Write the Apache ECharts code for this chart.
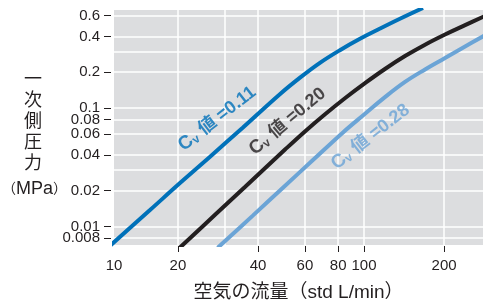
<!DOCTYPE html>
<html>
<head>
<meta charset="utf-8">
<script src="https://cdn.jsdelivr.net/npm/echarts@6/dist/echarts.min.js"></script>
<style>
html, body { margin: 0; padding: 0; background: #fff; }
#chart { width: 483px; height: 307px; }
</style>
</head>
<body>
<div id="chart"></div>
<script>
// 空気の流量 (std L/min) と 一次側圧力 (MPa)、両対数
var flow011 = [10.9, 15.7, 20.3, 26.4, 35.1, 48.3, 57.5, 68.3, 81.2, 96.6, 114.9, 136.5, 166.6];
var pres011 = [0.0066, 0.01374, 0.0231, 0.0388, 0.0684, 0.1305, 0.180, 0.240, 0.307, 0.383, 0.467, 0.565, 0.697];
var flow020 = [20.3, 27.5, 35.7, 50.5, 60, 71.4, 84.8, 100.9, 119.9, 142.6, 169.6, 201.6, 239.8, 285.1];
var pres020 = [0.0066, 0.01247, 0.0215, 0.0445, 0.0633, 0.0884, 0.1207, 0.1618, 0.2129, 0.2737, 0.3413, 0.4159, 0.4993, 0.597];
var flow028 = [28.2, 38.3, 49.6, 64.3, 83.4, 100.9, 119.9, 142.6, 169.6, 201.6, 239.8, 285.1];
var pres028 = [0.0066, 0.01239, 0.0212, 0.0363, 0.0621, 0.0892, 0.1233, 0.1656, 0.211, 0.2635, 0.3295, 0.4110];

var cvNames = ['0.11', '0.20', '0.28'];
// ラベルの位置 (データ座標)
var cvLabelFlow = [28.1, 51.6, 105.8];
var cvLabelPres = [0.0811, 0.0770, 0.0570];

var xRange = [11.5, 280];
var yRange = [0.00697, 0.67];
var xGrid = [20, 30, 40, 60, 80, 100, 200];
var xTicks = [20, 40, 60, 80, 100, 200];
var xLabelVals = [11.5, 20, 40, 60, 80, 100, 200];
var xLabels = ['10', '20', '40', '60', '80', '100', '200'];
var yGrid = [0.008, 0.01, 0.02, 0.03, 0.04, 0.06, 0.08, 0.1, 0.2, 0.3, 0.4, 0.6];
var yTicks = [0.008, 0.01, 0.02, 0.04, 0.06, 0.08, 0.1, 0.2, 0.4, 0.6];
var yLabels = ['0.008', '0.01', '0.02', '0.04', '0.06', '0.08', '0.1', '0.2', '0.4', '0.6'];

var lg = function(v) { return Math.log10(v); };
var pairs = function(xs, ys) {
	return xs.map(function(x, i) { return [lg(x), lg(ys[i])]; });
};
var labelOf = function(vals, texts) {
	return function(v) {
		for (var i = 0; i < vals.length; i++) {
			if (Math.abs(lg(vals[i]) - v) < 1e-4) return texts[i];
		}
		return '';
	};
};

var font = "'Liberation Sans','Noto Sans CJK JP',sans-serif";
var ink = '#231f20';
var colors = ['#0071b9', '#231f20', '#6ba4d6'];
var rotations = [38, 40, 38];

// 近い目盛ラベルが消されないよう、交互に二つの軸へ振り分ける
var yLabelAxis = function(parity, withTicks) {
	var vals = yTicks.filter(function(v, i) { return i % 2 === parity; });
	return {
		type: 'value', min: lg(yRange[0]), max: lg(yRange[1]),
		position: 'left', offset: 3,
		axisLine: {show: false},
		axisTick: {show: withTicks, length: 7, customValues: yTicks.map(lg), lineStyle: {color: ink, width: 1}},
		axisLabel: {
			customValues: vals.map(lg), formatter: labelOf(yTicks, yLabels),
			margin: 11, color: ink, fontSize: 15, fontFamily: font,
			hideOverlap: false, showMinLabel: true, showMaxLabel: true
		},
		splitLine: {show: false}
	};
};

var myChart = echarts.init(document.getElementById('chart'));
var option = {
	animation: false,
	grid: {
		left: 114, top: 10, right: 0, bottom: 57,
		show: true, backgroundColor: '#dcdddf', borderWidth: 0
	},
	xAxis: [
		{
			type: 'value', min: lg(xRange[0]), max: lg(xRange[1]),
			axisLine: {show: false},
			axisTick: {show: false, customValues: xGrid.map(lg)},
			axisLabel: {show: false},
			splitLine: {show: true, lineStyle: {color: '#fff', width: 1.5}}
		},
		{
			type: 'value', min: lg(xRange[0]), max: lg(xRange[1]),
			position: 'bottom', offset: 1,
			axisLine: {show: false},
			axisTick: {show: true, length: 6, customValues: xTicks.map(lg), lineStyle: {color: ink, width: 1}},
			axisLabel: {
				customValues: xLabelVals.map(lg), formatter: labelOf(xLabelVals, xLabels),
				margin: 12, color: ink, fontSize: 15, fontFamily: font,
				hideOverlap: false, showMinLabel: true, showMaxLabel: true
			},
			splitLine: {show: false},
			name: '空気の流量（std L/min）', nameLocation: 'middle', nameGap: 37,
			nameTextStyle: {color: ink, fontSize: 19, fontFamily: font}
		}
	],
	yAxis: [
		{
			type: 'value', min: lg(yRange[0]), max: lg(yRange[1]),
			axisLine: {show: false},
			axisTick: {show: false, customValues: yGrid.map(lg)},
			axisLabel: {show: false},
			splitLine: {show: true, lineStyle: {color: '#fff', width: 1.5}}
		},
		yLabelAxis(0, true),
		yLabelAxis(1, false)
	],
	graphic: [
		{
			type: 'text', left: 24, top: 70,
			style: {text: '一\n次\n側\n圧\n力', font: '18px ' + font, fill: ink, lineHeight: 21, align: 'center'}
		},
		{
			type: 'text', left: 2, top: 180,
			style: {
				text: '{p|（}{m|MPa}{p|）}', fill: ink,
				rich: {
					p: {fontSize: 14, fontFamily: font, fill: ink},
					m: {fontSize: 18, fontFamily: font, fill: ink}
				}
			}
		}
	],
	series: [
		{name: '0.11', type: 'line', data: pairs(flow011, pres011)},
		{name: '0.20', type: 'line', data: pairs(flow020, pres020)},
		{name: '0.28', type: 'line', data: pairs(flow028, pres028)}
	].map(function(s, i) {
		s.showSymbol = false;
		s.smooth = 0.4;
		s.silent = true;
		s.lineStyle = {color: colors[i], width: 4};
		s.itemStyle = {color: colors[i]};
		return s;
	}).concat([{
		type: 'scatter',
		symbolSize: 0,
		silent: true,
		data: cvNames.map(function(n, i) {
			return {
				value: [lg(cvLabelFlow[i]), lg(cvLabelPres[i])],
				label: {
					show: true, position: 'inside', rotate: rotations[i],
					formatter: '{c|C}{v|v}{t| 値 =' + n + '}',
					rich: {
						c: {fontSize: 19, fontWeight: 'bold', fontFamily: font, color: colors[i]},
						v: {fontSize: 12, fontWeight: 'bold', fontFamily: font, color: colors[i], verticalAlign: 'bottom'},
						t: {fontSize: 18, fontWeight: 'bold', fontFamily: font, color: colors[i]}
					}
				}
			};
		})
	}])
};
myChart.setOption(option);
</script>
</body>
</html>
